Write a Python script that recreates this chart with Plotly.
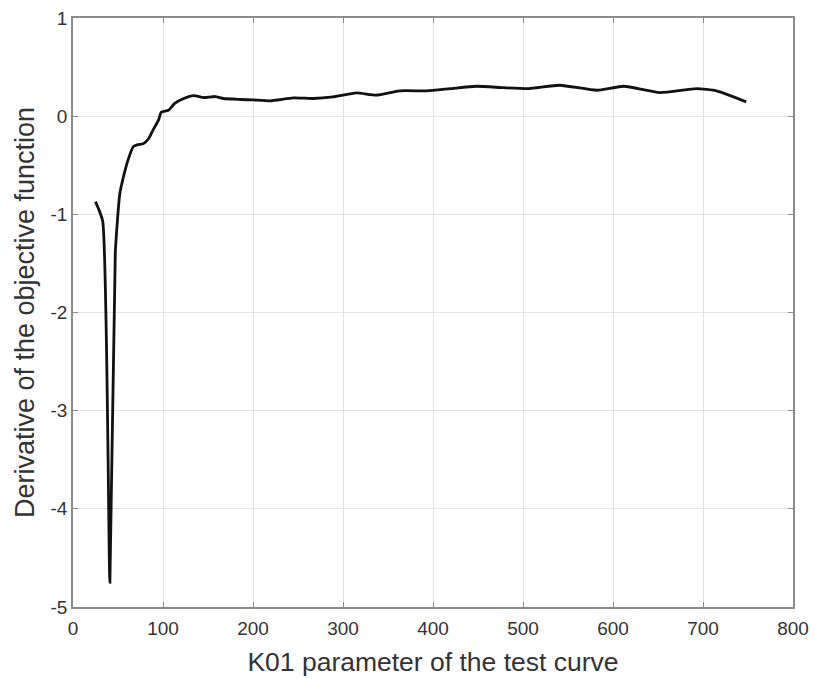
import plotly.graph_objects as go

k01 = [25, 33, 41, 47, 52, 56, 61, 67, 72, 78, 84, 89, 95, 98, 106, 113, 123, 134, 145,
       158, 167, 186, 200, 219, 245, 267, 289, 315, 337, 363, 393, 419, 448, 478, 506,
       541, 582, 612, 652, 693, 715, 748]
deriv = [-0.87, -1.07, -4.75, -1.39, -0.79, -0.62, -0.45, -0.31, -0.29, -0.28, -0.23,
         -0.14, -0.04, 0.04, 0.06, 0.13, 0.18, 0.21, 0.19, 0.2, 0.18, 0.17, 0.165, 0.156,
         0.186, 0.18, 0.196, 0.237, 0.214, 0.258, 0.258, 0.28, 0.305, 0.29, 0.28, 0.315,
         0.264, 0.305, 0.24, 0.28, 0.258, 0.146]

x_ticks = [0, 100, 200, 300, 400, 500, 600, 700, 800]
y_ticks = [1, 0, -1, -2, -3, -4, -5]

FONT = "Liberation Sans, Arial, sans-serif"

fig = go.Figure()
fig.add_trace(go.Scatter(x=k01, y=deriv, mode="lines",
                         line=dict(color="#111111", width=2.8, shape="spline", smoothing=0.5),
                         showlegend=False, hoverinfo="skip"))

axis_common = dict(
    showline=True, linecolor="#8c8c8c", linewidth=1.5, mirror="ticks",
    ticks="inside", ticklen=5, tickcolor="#8c8c8c", tickwidth=1,
    showgrid=True, gridcolor="#e3e3e3", gridwidth=1, zeroline=False,
    automargin=False,
    tickfont=dict(family=FONT, size=19, color="#333333"),
)

fig.update_xaxes(range=[0, 800], tickvals=x_ticks, ticktext=[str(v) for v in x_ticks],
                 ticklabelstandoff=3,
                 title=dict(text="K01 parameter of the test curve",
                            font=dict(family=FONT, size=26.5, color="#333333"),
                            standoff=15),
                 **axis_common)
fig.update_yaxes(range=[-5, 1], tickvals=y_ticks, ticktext=[str(v) for v in y_ticks],
                 title=dict(text="Derivative of the objective function",
                            font=dict(family=FONT, size=27, color="#333333"),
                            standoff=8),
                 **axis_common)

fig.update_layout(
    width=815, height=679,
    margin=dict(l=73, r=22, t=18, b=72),
    plot_bgcolor="white", paper_bgcolor="white",
)

# remove the default page margin so the figure sits at the window's top-left corner
fig.write_html("out.html", config={"displayModeBar": False},
               post_script="document.body.style.margin='0';document.body.style.overflow='hidden';")
